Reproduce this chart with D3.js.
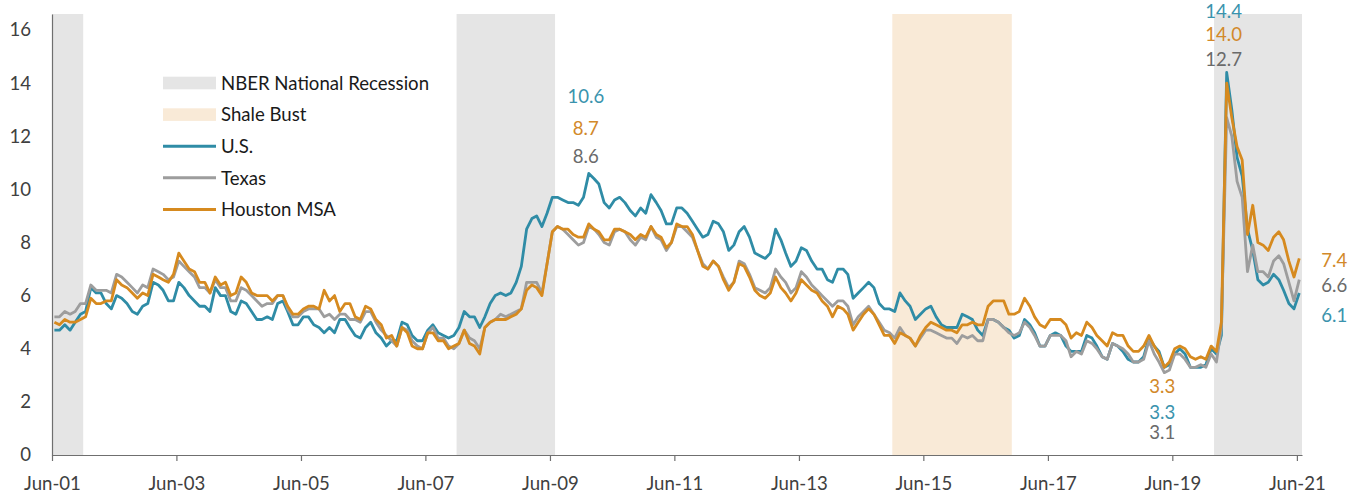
<!DOCTYPE html>
<html>
<head>
<meta charset="utf-8">
<script src="https://cdn.jsdelivr.net/npm/d3@7"></script>
<style>
  html, body { margin: 0; padding: 0; background: #fff; }
  svg { display: block; font-family: Lato, "Open Sans", sans-serif; }
</style>
</head>
<body>
<svg id="chart" width="1364" height="497"></svg>
<script>
// Monthly unemployment rate (%, not seasonally adjusted), June 2001 – June 2021
const firstMonth = "2001-06";

const usRate = [
  4.7, 4.7, 4.9, 4.7, 5.0, 5.3, 5.4,
  6.3, 6.1, 6.1, 5.7, 5.5, 6.0, 5.9, 5.7, 5.4, 5.3, 5.6, 5.7,
  6.5, 6.4, 6.2, 5.8, 5.8, 6.5, 6.3, 6.0, 5.8, 5.6, 5.6, 5.4,
  6.3, 6.0, 6.0, 5.4, 5.3, 5.8, 5.7, 5.4, 5.1, 5.1, 5.2, 5.1,
  5.7, 5.8, 5.4, 4.9, 4.9, 5.2, 5.2, 4.9, 4.8, 4.6, 4.8, 4.6,
  5.1, 5.1, 4.8, 4.5, 4.4, 4.8, 5.0, 4.6, 4.4, 4.1, 4.3, 4.3,
  5.0, 4.9, 4.5, 4.3, 4.3, 4.7, 4.9, 4.6, 4.5, 4.4, 4.5, 4.8,
  5.4, 5.2, 5.2, 4.8, 5.2, 5.7, 6.0, 6.1, 6.0, 6.1, 6.5, 7.1,
  8.5, 8.9, 9.0, 8.6, 9.1, 9.7, 9.7, 9.6, 9.5, 9.5, 9.4, 9.7,
  10.6, 10.4, 10.2, 9.5, 9.3, 9.6, 9.7, 9.5, 9.2, 9.0, 9.3, 9.1,
  9.8, 9.5, 9.2, 8.7, 8.7, 9.3, 9.3, 9.1, 8.8, 8.5, 8.2, 8.3,
  8.8, 8.7, 8.4, 7.7, 7.9, 8.4, 8.6, 8.2, 7.6, 7.5, 7.4, 7.6,
  8.5, 8.1, 7.6, 7.1, 7.3, 7.8, 7.7, 7.3, 7.0, 7.0, 6.6, 6.5,
  7.0, 7.0, 6.8, 5.9, 6.1, 6.3, 6.5, 6.3, 5.7, 5.5, 5.5, 5.4,
  6.1, 5.8, 5.6, 5.1, 5.3, 5.5, 5.6, 5.2, 4.9, 4.8, 4.8, 4.8,
  5.3, 5.2, 5.1, 4.7, 4.5, 5.1, 5.1, 5.0, 4.8, 4.7, 4.4, 4.5,
  5.1, 4.9, 4.6, 4.1, 4.1, 4.5, 4.6, 4.5, 4.1, 3.9, 3.9, 3.9,
  4.5, 4.4, 4.1, 3.7, 3.6, 4.2, 4.1, 3.9, 3.6, 3.5, 3.5, 3.7,
  4.4, 4.1, 3.9, 3.3, 3.4, 3.8, 4.0, 3.8, 3.3, 3.3, 3.3, 3.4,
  4.0, 3.8, 4.5, 14.4, 13.0, 11.2, 10.5, 8.5, 7.7, 6.6, 6.4, 6.5,
  6.8, 6.6, 6.2, 5.7, 5.5, 6.1
];

const texasRate = [
  5.2, 5.2, 5.4, 5.3, 5.4, 5.7, 5.7,
  6.4, 6.2, 6.2, 6.2, 6.1, 6.8, 6.7, 6.5, 6.3, 6.1, 6.4, 6.3,
  7.0, 6.9, 6.8, 6.6, 6.7, 7.3, 7.1, 6.9, 6.7, 6.3, 6.3, 6.1,
  6.6, 6.3, 6.3, 5.8, 5.8, 6.3, 6.2, 6.0, 5.8, 5.6, 5.7, 5.7,
  6.0, 6.0, 5.5, 5.2, 5.2, 5.4, 5.5, 5.5, 5.5, 5.2, 5.3, 5.1,
  5.3, 5.3, 5.1, 5.1, 5.0, 5.4, 5.4, 5.0, 4.7, 4.5, 4.3, 4.1,
  4.8, 4.7, 4.3, 4.1, 4.0, 4.6, 4.8, 4.4, 4.4, 4.1, 4.0, 4.2,
  4.7, 4.4, 4.3, 4.0, 4.8, 5.0, 5.1, 5.3, 5.2, 5.3, 5.4, 5.5,
  6.5, 6.5, 6.5, 6.1, 7.2, 8.4, 8.6, 8.5, 8.3, 8.1, 7.9, 8.0,
  8.6, 8.5, 8.3, 8.0, 7.9, 8.4, 8.5, 8.4, 8.1, 7.9, 8.2, 8.1,
  8.6, 8.2, 8.1, 7.7, 8.0, 8.6, 8.6, 8.4, 8.2, 7.7, 7.2, 7.0,
  7.3, 7.1, 6.7, 6.3, 6.5, 7.3, 7.2, 6.8, 6.3, 6.2, 6.1, 6.3,
  7.0, 6.7, 6.5, 6.1, 6.3, 6.9, 6.7, 6.4, 6.2, 6.0, 5.8, 5.6,
  5.8, 5.8, 5.6, 4.9, 5.2, 5.4, 5.6, 5.3, 5.0, 4.7, 4.6, 4.4,
  4.8, 4.5, 4.4, 4.1, 4.4, 4.7, 4.7, 4.6, 4.5, 4.4, 4.4, 4.2,
  4.5, 4.4, 4.5, 4.3, 4.3, 5.1, 5.1, 5.0, 4.8, 4.6, 4.5, 4.6,
  5.0, 4.8, 4.5, 4.1, 4.1, 4.5, 4.5, 4.5, 4.3, 3.7, 3.9, 3.8,
  4.3, 4.2, 4.0, 3.7, 3.6, 4.2, 4.1, 4.0, 3.8, 3.5, 3.5, 3.6,
  4.3, 3.8, 3.5, 3.1, 3.2, 3.8, 3.8, 3.6, 3.3, 3.3, 3.4, 3.3,
  3.8, 3.5, 4.8, 12.7, 12.0, 10.3, 9.7, 6.9, 7.9, 6.9, 6.9, 6.7,
  7.3, 7.5, 7.2, 6.5, 5.8, 6.6
];

const houstonRate = [
  5.0, 4.9, 5.1, 5.0, 5.0, 5.1, 5.2,
  5.9, 5.7, 5.7, 5.8, 5.8, 6.6, 6.4, 6.3, 6.1, 5.9, 6.1, 6.0,
  6.8, 6.7, 6.6, 6.5, 6.8, 7.6, 7.3, 7.0, 6.9, 6.5, 6.5, 6.1,
  6.7, 6.4, 6.5, 6.0, 6.1, 6.7, 6.5, 6.1, 6.0, 6.0, 6.0, 5.8,
  6.0, 6.0, 5.6, 5.3, 5.3, 5.5, 5.6, 5.6, 5.5, 6.2, 5.8, 6.0,
  5.4, 5.7, 5.7, 5.2, 5.1, 5.6, 5.5, 5.1, 4.9, 4.4, 4.5, 4.1,
  4.8, 4.6, 4.1, 4.0, 4.0, 4.6, 4.6, 4.3, 4.3, 4.0, 4.1, 4.2,
  4.7, 4.2, 4.1, 3.8, 4.8, 5.0, 5.1, 5.1, 5.1, 5.2, 5.3, 5.5,
  6.2, 6.4, 6.3, 6.0, 7.2, 8.4, 8.6, 8.5, 8.5, 8.3, 8.2, 8.2,
  8.7, 8.5, 8.4, 8.1, 8.1, 8.5, 8.5, 8.4, 8.3, 8.1, 8.3, 8.2,
  8.6, 8.3, 8.2, 7.8, 8.0, 8.7, 8.6, 8.6, 8.3, 7.7, 7.1, 7.0,
  7.3, 7.1, 6.6, 6.2, 6.5, 7.2, 7.1, 6.7, 6.2, 6.0, 5.9, 6.1,
  6.7, 6.3, 6.1, 5.8, 6.1, 6.6, 6.4, 6.2, 6.1, 5.8, 5.6, 5.2,
  5.6, 5.5, 5.3, 4.7, 5.0, 5.3, 5.5, 5.3, 4.9, 4.5, 4.5, 4.2,
  4.6, 4.5, 4.4, 4.1, 4.5, 4.8, 5.0, 4.9, 4.8, 4.7, 4.7, 4.6,
  4.9, 4.9, 5.0, 4.9, 4.9, 5.6, 5.8, 5.8, 5.8, 5.3, 5.3, 5.4,
  5.9, 5.6, 5.2, 4.9, 4.8, 5.1, 5.1, 5.1, 4.9, 4.4, 4.6, 4.5,
  5.0, 4.8, 4.5, 4.3, 4.1, 4.6, 4.5, 4.5, 4.1, 3.9, 3.9, 4.1,
  4.5, 4.1, 3.8, 3.3, 3.5, 4.0, 4.1, 4.0, 3.7, 3.6, 3.7, 3.6,
  4.1, 3.9, 5.0, 14.0, 12.7, 11.6, 11.1, 8.3, 9.4, 8.0, 7.9, 7.7,
  8.2, 8.4, 8.1, 7.3, 6.7, 7.4
];

// Shaded periods (first month, last month), inclusive
const recessions = [["2001-03", "2001-11"], ["2007-12", "2009-06"], ["2020-02", "2021-06"]];
const shaleBust = [["2014-12", "2016-10"]];

const xTickLabels = ["Jun-01", "Jun-03", "Jun-05", "Jun-07", "Jun-09", "Jun-11",
                     "Jun-13", "Jun-15", "Jun-17", "Jun-19", "Jun-21"];
const yTicks = [0, 2, 4, 6, 8, 10, 12, 14, 16];

const seriesNames = { us: "U.S.", texas: "Texas", houston: "Houston MSA" };

// ---------- styling ----------
const colors = {
  us: "#2f8ca6", texas: "#9d9d9d", houston: "#d68a1f",
  usLabel: "#3a93ad", texasLabel: "#6a6a6a", houstonLabel: "#d2892a",
  recession: "#e5e5e5", shale: "#f9ead7", axis: "#6f6f6f", tick: "#404040"
};
const fontSize = 18.6;

const svg = d3.select("#chart");
const plot = { left: 52, right: 1302, top: 14, bottom: 455 };

const parseMonth = d3.timeParse("%Y-%m");
const start = parseMonth(firstMonth);
const n = usRate.length;
const monthMid = i => { const d = d3.timeMonth.offset(start, i); d.setDate(15); return d; };

const x = d3.scaleTime()
  .domain([start, d3.timeMonth.offset(start, n)])
  .range([plot.left, plot.right]);
const y = d3.scaleLinear().domain([0, 16.6]).range([plot.bottom, plot.top]);

// ---------- shaded bands ----------
function band(periods, fill) {
  svg.append("g").selectAll("rect").data(periods).join("rect")
    .attr("x", d => Math.max(plot.left, x(parseMonth(d[0]))))
    .attr("width", d => {
      const x0 = Math.max(plot.left, x(parseMonth(d[0])));
      const x1 = Math.min(plot.right, x(d3.timeMonth.offset(parseMonth(d[1]), 1)));
      return x1 - x0;
    })
    .attr("y", plot.top)
    .attr("height", plot.bottom - plot.top)
    .attr("fill", fill);
}
band(recessions, colors.recession);
band(shaleBust, colors.shale);

// ---------- axes ----------
const parseTick = d3.timeParse("%b-%y");
const xAxis = d3.axisBottom(x)
  .tickValues(xTickLabels.map(parseTick))
  .tickFormat(d3.timeFormat("%b-%y"))
  .tickSize(6).tickSizeOuter(0).tickPadding(16);
const gx = svg.append("g").attr("transform", `translate(0,${plot.bottom})`).call(xAxis);
gx.select(".domain").attr("stroke", colors.axis).attr("stroke-width", 1.2);
gx.selectAll(".tick line").attr("stroke", colors.axis).attr("stroke-width", 1.2);
gx.selectAll(".tick text").attr("fill", colors.tick).attr("font-size", fontSize)
  .style("font-family", "Lato, sans-serif");

const yAxis = d3.axisLeft(y).tickValues(yTicks).tickSize(0).tickSizeOuter(0).tickPadding(21);
const gy = svg.append("g").attr("transform", `translate(${plot.left},0)`).call(yAxis);
gy.select(".domain").attr("stroke", colors.axis).attr("stroke-width", 1.2);
gy.selectAll(".tick text").attr("fill", colors.tick).attr("font-size", fontSize)
  .style("font-family", "Lato, sans-serif");

// ---------- lines ----------
const series = [
  { key: "us", values: usRate },
  { key: "texas", values: texasRate },
  { key: "houston", values: houstonRate }
];
const line = d3.line().x((d, i) => x(monthMid(i))).y(d => y(d));
svg.append("g").selectAll("path").data(series).join("path")
  .attr("d", d => line(d.values))
  .attr("fill", "none")
  .attr("stroke", d => colors[d.key])
  .attr("stroke-width", 2.8)
  .attr("stroke-linejoin", "round");

// ---------- value callouts ----------
const callouts = [
  { key: "us", month: "2010-01", dx: -3, dy: -77 },
  { key: "houston", month: "2010-01", dx: -3, dy: -96 },
  { key: "texas", month: "2010-01", dx: -3, dy: -70 },
  { key: "us", month: "2020-04", dx: -3, dy: -61 },
  { key: "houston", month: "2020-04", dx: -3, dy: -48.7 },
  { key: "texas", month: "2020-04", dx: -3, dy: -58.2 },
  { key: "houston", month: "2019-04", dx: -2, dy: 19 },
  { key: "us", month: "2019-04", dx: -2, dy: 45 },
  { key: "texas", month: "2019-04", dx: -2, dy: 60 },
  { key: "houston", month: "2021-06", dx: 22, dy: 2, anchor: "start" },
  { key: "texas", month: "2021-06", dx: 22, dy: 6, anchor: "start" },
  { key: "us", month: "2021-06", dx: 22, dy: 22, anchor: "start" }
];
const valuesByKey = { us: usRate, texas: texasRate, houston: houstonRate };
svg.append("g").selectAll("text").data(callouts).join("text")
  .each(function (d) {
    const i = d3.timeMonth.count(start, parseMonth(d.month));
    const v = valuesByKey[d.key][i];
    d3.select(this)
      .attr("x", x(monthMid(i)) + d.dx)
      .attr("y", y(v) + d.dy)
      .attr("dy", "0.36em")
      .attr("text-anchor", d.anchor || "middle")
      .attr("font-size", fontSize)
      .attr("fill", colors[d.key + "Label"])
      .text(v.toFixed(1));
  });

// ---------- legend ----------
const legendItems = [
  { type: "rect", label: "NBER National Recession", color: colors.recession },
  { type: "rect", label: "Shale Bust", color: colors.shale },
  { type: "line", label: seriesNames.us, color: colors.us },
  { type: "line", label: seriesNames.texas, color: colors.texas },
  { type: "line", label: seriesNames.houston, color: colors.houston }
];
const legend = svg.append("g").attr("transform", "translate(163,83)");
const rows = legend.selectAll("g").data(legendItems).join("g")
  .attr("transform", (d, i) => `translate(0,${i * 31.6})`);
rows.filter(d => d.type === "rect").append("rect")
  .attr("x", 0).attr("y", -6.3).attr("width", 53).attr("height", 12.6)
  .attr("fill", d => d.color);
rows.filter(d => d.type === "line").append("line")
  .attr("x1", 0).attr("x2", 53).attr("y1", 0).attr("y2", 0)
  .attr("stroke", d => d.color).attr("stroke-width", 3);
rows.append("text")
  .attr("x", 58).attr("y", 0).attr("dy", "0.36em")
  .attr("font-size", fontSize).attr("fill", "#1a1a1a")
  .text(d => d.label);
</script>
</body>
</html>
